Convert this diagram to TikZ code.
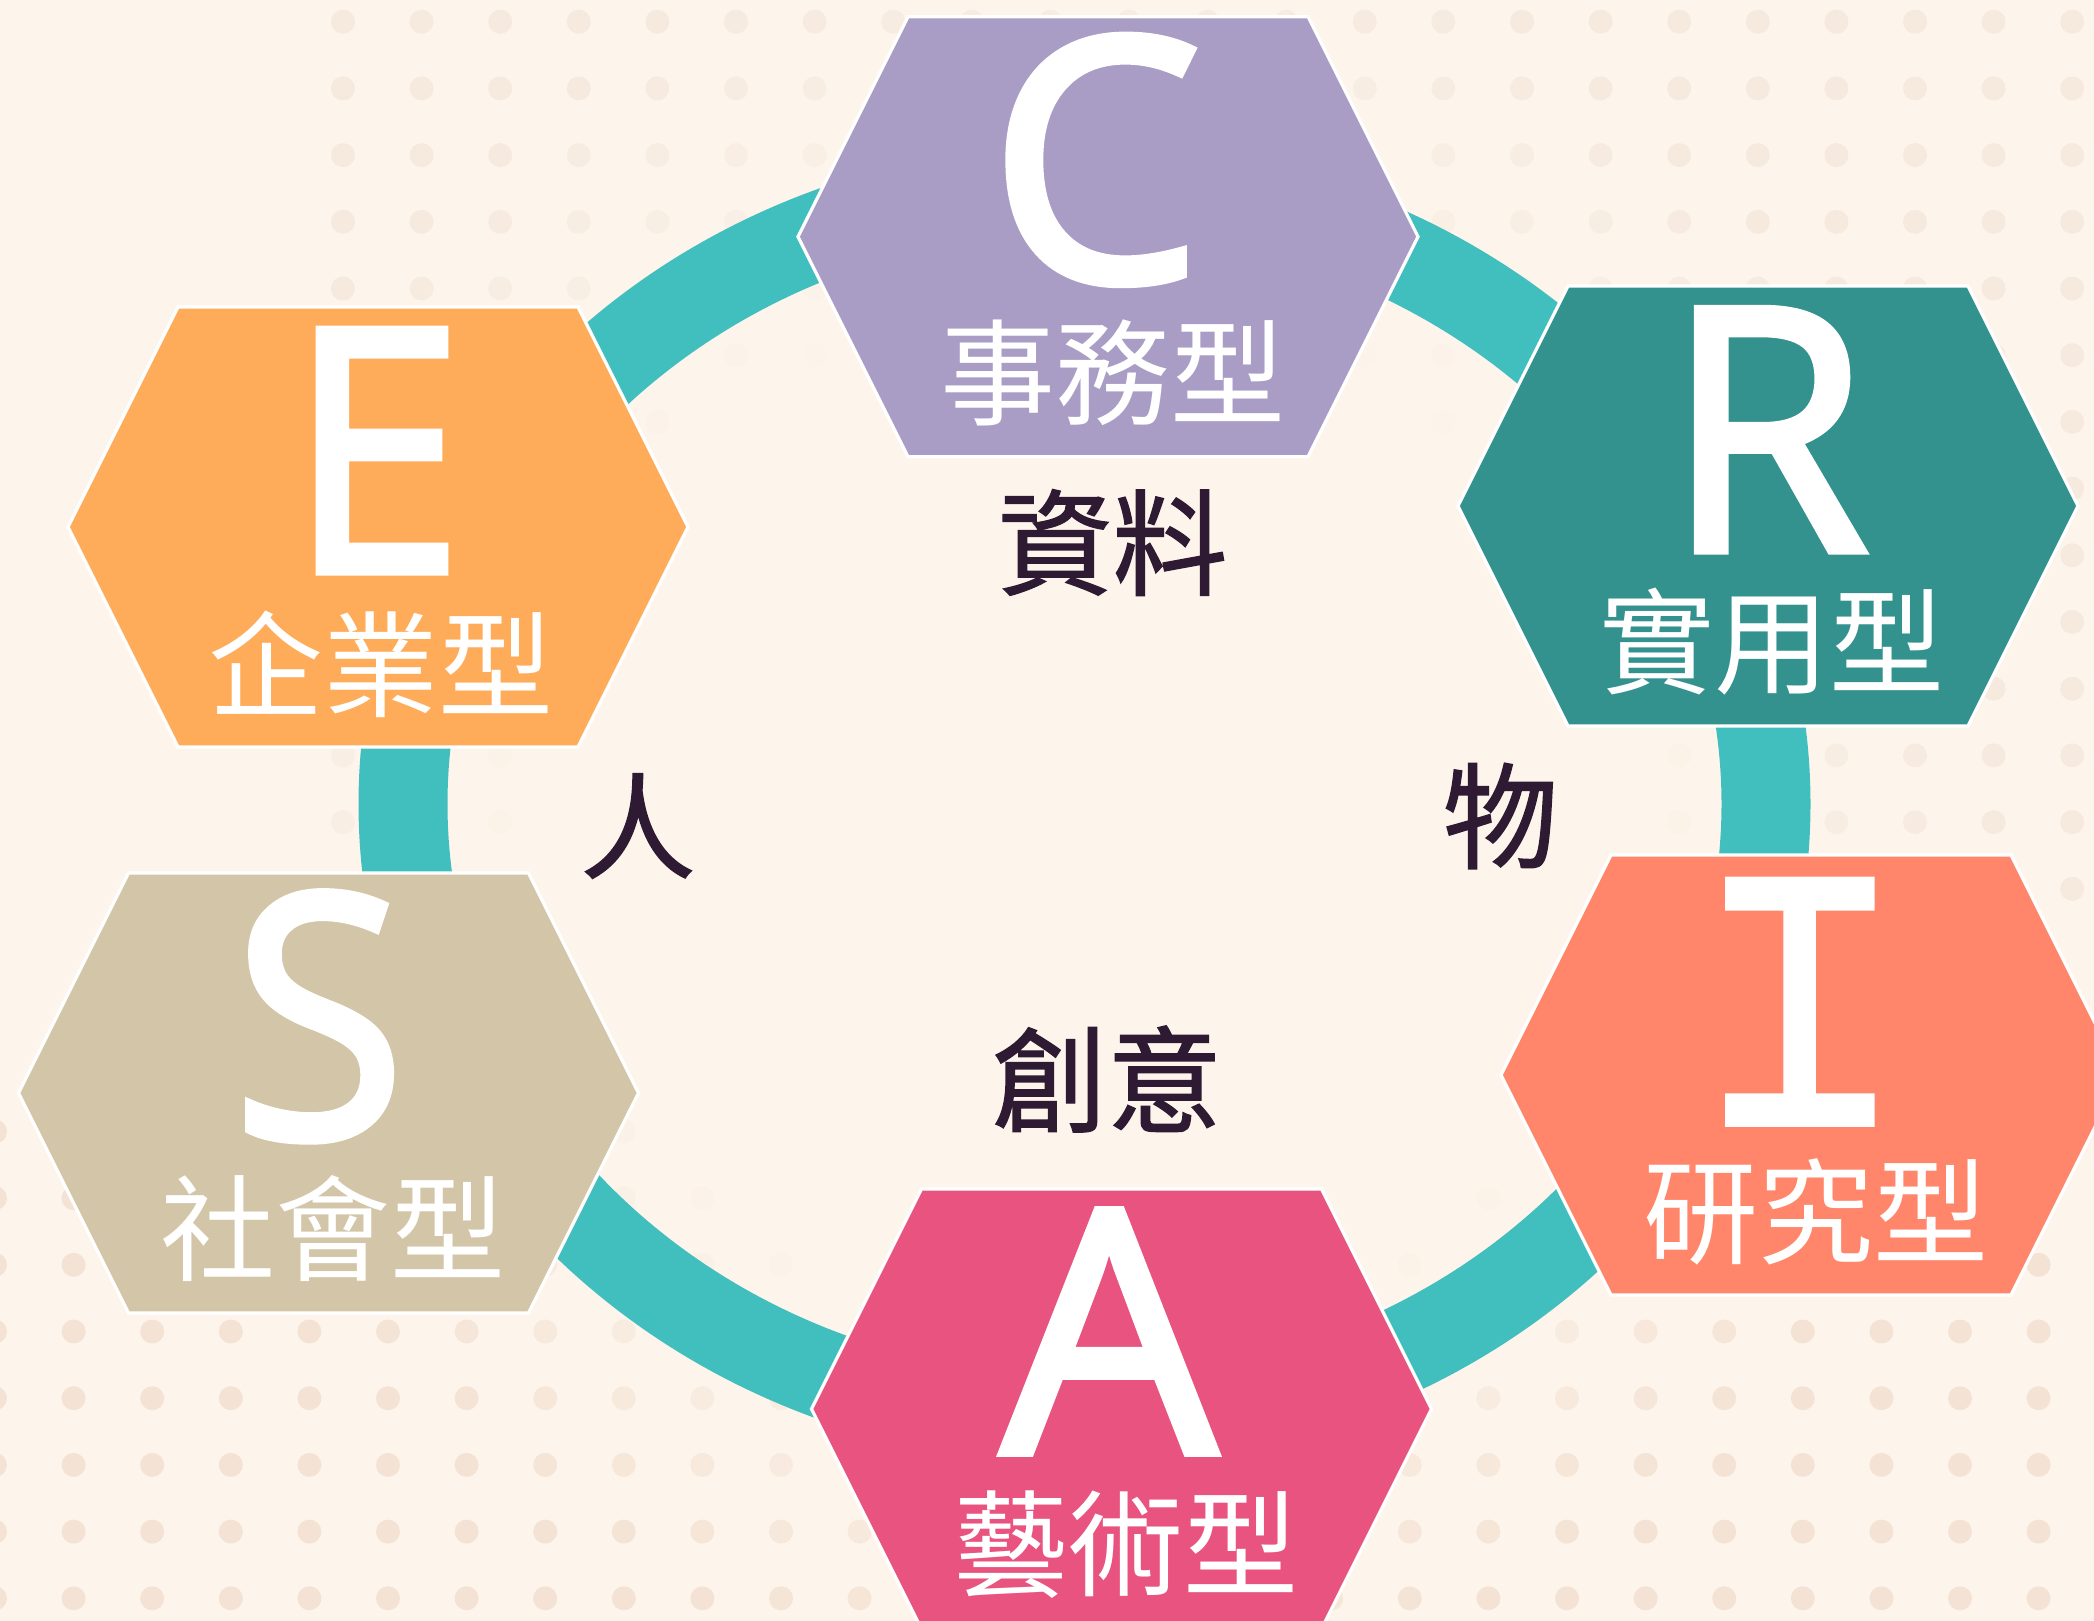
\documentclass[tikz,border=0pt]{standalone}
\usepackage{fontspec}
\newfontfamily\cjk{Noto Sans CJK TC}
\newfontfamily\cjkmed[FakeBold=1.2]{Noto Sans CJK TC}
\newfontfamily\cjkletter[FakeBold=2.3]{Noto Sans CJK TC}
\newfontfamily\latletter[FakeBold=2.3]{Open Sans}
\definecolor{bg}{HTML}{FDF4EB}
\definecolor{dotA}{HTML}{F6EADF}
\definecolor{dotB}{HTML}{F4E3D4}
\definecolor{ringcol}{HTML}{41BFBE}
\definecolor{colC}{HTML}{A99DC5}
\definecolor{colR}{HTML}{33918E}
\definecolor{colE}{HTML}{FFAC5A}
\definecolor{colI}{HTML}{FF866B}
\definecolor{colA}{HTML}{E8537F}
\definecolor{colS}{HTML}{D3C6A8}
\definecolor{darktext}{HTML}{2E1A33}
\newcommand\hexat[4]{%
  \path[hexa,fill=#4] ({#2-310},{#3}) -- ({#2-200},{#3-220}) -- ({#2+200},{#3-220})
    -- ({#2+310},{#3}) -- ({#2+200},{#3+220}) -- ({#2-200},{#3+220}) -- cycle;
  \coordinate (#1) at (#2,#3);}
\begin{document}
\begin{tikzpicture}[x=0.5pt,y=-0.5pt,
  hexa/.style={draw=white,line width=1.6pt,line join=miter},
  bigletter/.style={text=white,font=\latletter\fontsize{169.5}{170}\selectfont,inner sep=0pt,anchor=base,
    text height=121pt,text depth=0pt},
  wlabel/.style={text=white,font=\cjk\fontsize{57.5}{60}\selectfont,inner sep=0pt,anchor=center},
  dlabel/.style={text=darktext,font=\cjkmed\fontsize{57.5}{60}\selectfont,inner sep=0pt,anchor=center}]
\useasboundingbox (0,0) rectangle (2094,1621);
\clip (0,0) rectangle (2094,1621);
\fill[bg] (0,0) rectangle (2094,1621);
% dot texture, upper grid
\foreach \j in {0,...,13}{
  \foreach \i in {0,...,22}{
    \pgfmathsetmacro\px{343+78.6*\i}
    \pgfmathsetmacro\py{21.7+66.7*\j}
    \pgfmathsetmacro\op{min(1,max(0,(veclen(\px-1085,\py-804)-520)/380))}
    \fill[dotA,opacity=\op] (\px,\py) circle[radius=6pt];
  }
}
% dot texture, lower grid
\foreach \j in {0,...,7}{
  \foreach \i in {0,...,26}{
    \pgfmathsetmacro\px{-5+78.6*\i}
    \pgfmathsetmacro\py{1598.3-66.7*\j}
    \pgfmathsetmacro\op{min(1,max(0,(veclen(\px-1085,\py-804)-520)/380))}
    \fill[dotB,opacity=\op] (\px,\py) circle[radius=6pt];
  }
}
% ring
\fill[ringcol,even odd rule] (1084.5,804) ellipse[x radius=363pt,y radius=330.5pt]
  (1084.5,804) ellipse[x radius=318.5pt,y radius=286.5pt];
% hexagons
\hexat{hC}{1108}{236.7}{colC}
\hexat{hR}{1768}{506}{colR}
\hexat{hE}{378}{527}{colE}
\hexat{hS}{328.5}{1093}{colS}
\hexat{hI}{1811}{1075}{colI}
\hexat{hA}{1121.5}{1409}{colA}
% letters
\node[bigletter] (lC) at (1095.5,281) {C};
\node[bigletter] (lR) at (1767,550.7) {\scalebox{0.97}[1]{R}};
\node[bigletter] (lE) at (376,571.6) {\scalebox{0.93}[1]{E}};
\node[bigletter] (lS) at (319,1137.5) {\scalebox{0.93}[1]{S}};
\node[bigletter,font=\cjkletter\fontsize{165}{165}\selectfont] (lI) at (1799.6,1123) {\scalebox{0.86}[1]{Ｉ}};
\node[bigletter] (lA) at (1109,1453) {A};
% type labels
\node[wlabel] (tC) at (1112.5,373) {事務型};
\node[wlabel] (tR) at (1771.5,642) {實用型};
\node[wlabel] (tE) at (380.5,664) {企業型};
\node[wlabel] (tS) at (332.5,1228.5) {社會型};
\node[wlabel] (tI) at (1815.6,1212) {研究型};
\node[wlabel] (tA) at (1126,1545) {藝術型};
% inner labels
\node[dlabel] (d1) at (1112.5,542.5) {資料};
\node[dlabel] (d2) at (638,826) {人};
\node[dlabel] (d3) at (1500.5,816) {物};
\node[dlabel] (d4) at (1107,1079) {創意};
\end{tikzpicture}
\end{document}
